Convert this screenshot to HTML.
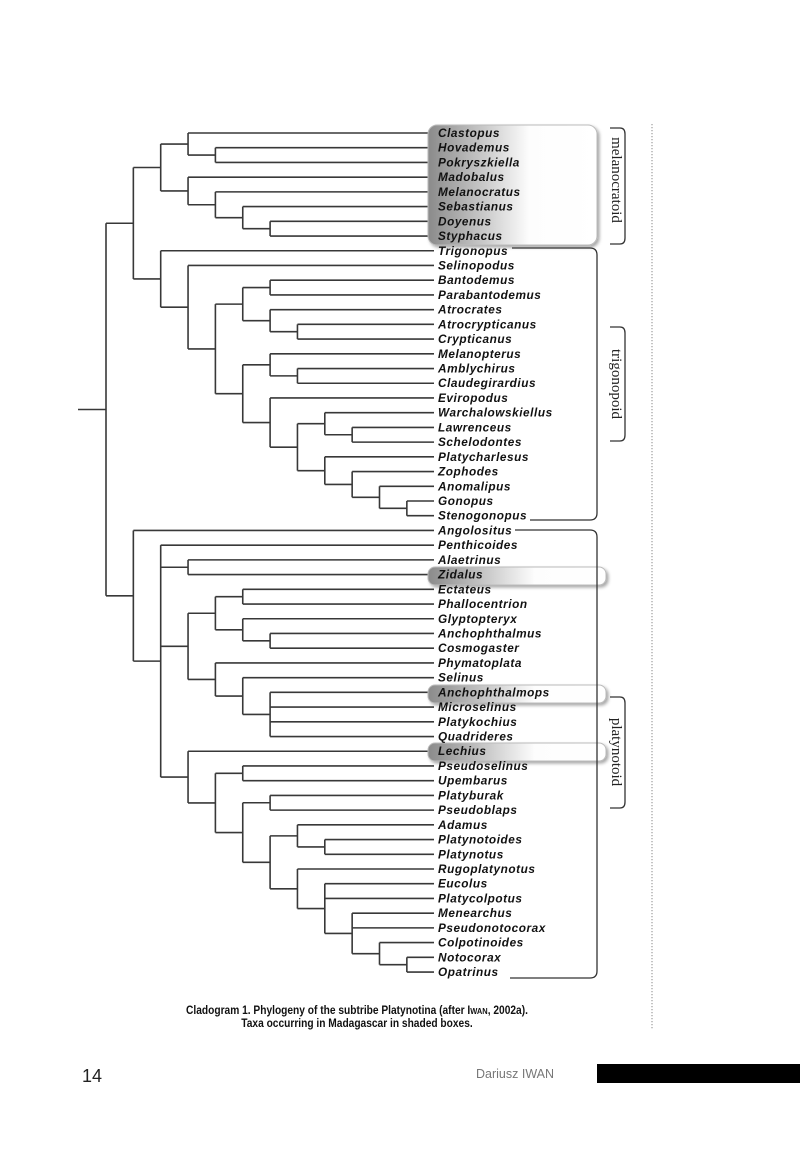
<!DOCTYPE html>
<html><head><meta charset="utf-8"><style>
html,body{margin:0;padding:0;background:#fff;}
body{width:800px;height:1168px;position:relative;overflow:hidden;}
svg{position:absolute;left:0;top:0;}
</style></head><body>
<svg id="s" width="800" height="1168" xmlns="http://www.w3.org/2000/svg">
<defs>
<linearGradient id="g" x1="0" x2="1" y1="0" y2="0">
<stop offset="0" stop-color="#8a8a8a"/><stop offset="0.6" stop-color="#fdfdfd"/><stop offset="1" stop-color="#fff"/>
</linearGradient>
<filter id="sh" x="-10%" y="-20%" width="130%" height="160%"><feDropShadow dx="2" dy="2" stdDeviation="1.5" flood-color="#000" flood-opacity="0.35"/></filter>
</defs>
<g id="tree" stroke="#383838" stroke-width="1.6" fill="none"></g>
<g id="boxes">
<rect x="428" y="125" width="169" height="120" rx="9" fill="url(#g)" stroke="#bbb" filter="url(#sh)"/>
<rect x="428" y="567" width="178" height="18" rx="7" fill="url(#g)" stroke="#bbb" filter="url(#sh)"/>
<rect x="428" y="685" width="178" height="18" rx="7" fill="url(#g)" stroke="#bbb" filter="url(#sh)"/>
<rect x="428" y="743" width="178" height="18" rx="7" fill="url(#g)" stroke="#bbb" filter="url(#sh)"/>
</g>
<g stroke="#333" stroke-width="1.3" fill="none">
<path d="M512 248 H590 Q597 248 597 255 V513 Q597 520 590 520 H530"/>
<path d="M515 530 H590 Q597 530 597 537 V971 Q597 978 590 978 H510"/>
<path d="M610 128 H620 Q625 128 625 134 V238 Q625 244 620 244 H610"/>
<path d="M610 327 H620 Q625 327 625 333 V435 Q625 441 620 441 H610"/>
<path d="M610 697 H620 Q625 697 625 703 V802 Q625 808 620 808 H610"/>
</g>
<g font-family="'Liberation Serif',serif" font-size="15" fill="#222">
<text transform="translate(612,180) rotate(90)" text-anchor="middle">melanocratoid</text>
<text transform="translate(612,384) rotate(90)" text-anchor="middle">trigonopoid</text>
<text transform="translate(612,752) rotate(90)" text-anchor="middle">platynotoid</text>
</g>
<line x1="652" y1="124" x2="652" y2="1030" stroke="#888" stroke-width="1" stroke-dasharray="1.2,1.8"/>
<g id="labels" font-family="'Liberation Sans',sans-serif" font-size="11.8" font-weight="bold" font-style="italic" fill="#111" letter-spacing="0.55"></g>
<g font-family="'Liberation Sans',sans-serif" font-size="11.6" fill="#111" text-anchor="middle" transform="translate(357,0) scale(0.88,1) translate(-357,0)">
<text x="357" y="1014" font-weight="bold">Cladogram 1. Phylogeny of the subtribe Platynotina (after I<tspan font-size="8.5">WAN</tspan>, 2002a).</text>
<text x="357" y="1027" font-weight="bold">Taxa occurring in Madagascar in shaded boxes.</text>
</g>
<text x="82" y="1082" font-family="'Liberation Sans',sans-serif" font-size="18" fill="#222">14</text>
<text x="476" y="1078" font-family="'Liberation Sans',sans-serif" font-size="12.5" fill="#777">Dariusz IWAN</text>
<rect x="597" y="1064" width="203" height="19" fill="#000"/>
</svg>
<script>
var T=[[[["Clastopus",["Hovademus","Pokryszkiella"]],["Madobalus",["Melanocratus",["Sebastianus",["Doyenus","Styphacus"]]]]],
["Trigonopus",["Selinopodus",[[["Bantodemus","Parabantodemus"],["Atrocrates",["Atrocrypticanus","Crypticanus"]]],[["Melanopterus",["Amblychirus","Claudegirardius"]],["Eviropodus",[["Warchalowskiellus",["Lawrenceus","Schelodontes"]],["Platycharlesus",["Zophodes",["Anomalipus",["Gonopus","Stenogonopus"]]]]]]]]]]],
["Angolositus",["Penthicoides",["Alaetrinus","Zidalus"],[[["Ectateus","Phallocentrion"],["Glyptopteryx",["Anchophthalmus","Cosmogaster"]]],["Phymatoplata",["Selinus",["Anchophthalmops","Microselinus","Platykochius","Quadrideres"]]]],
["Lechius",[["Pseudoselinus","Upembarus"],[["Platyburak","Pseudoblaps"],[["Adamus",["Platynotoides","Platynotus"]],["Rugoplatynotus",["Eucolus","Platycolpotus",["Menearchus","Pseudonotocorax",["Colpotinoides",["Notocorax","Opatrinus"]]]]]]]]]]]];
var NS="http://www.w3.org/2000/svg",tree=document.getElementById("tree"),lab=document.getElementById("labels");
var idx=0,X0=106,DX=27.35,Y0=133,DY=14.72,LEND=434;
function line(a,b,c,d){var l=document.createElementNS(NS,"line");l.setAttribute("x1",a);l.setAttribute("y1",b);l.setAttribute("x2",c);l.setAttribute("y2",d);tree.appendChild(l);}
function walk(n,depth,px){
 if(typeof n==="string"){var y=Y0+DY*(idx++);line(px,y,LEND,y);
  var t=document.createElementNS(NS,"text");t.setAttribute("x",438);t.setAttribute("y",y+4);t.textContent=n;lab.appendChild(t);return y;}
 var x=X0+DX*depth,ys=[];
 for(var i=0;i<n.length;i++)ys.push(walk(n[i],depth+1,x));
 var y=(ys[0]+ys[ys.length-1])/2;
 line(x,ys[0],x,ys[ys.length-1]);
 if(px!==null)line(px,y,x,y);else line(78,y,x,y);
 return y;}
walk(T,0,null);
</script>
</body></html>
